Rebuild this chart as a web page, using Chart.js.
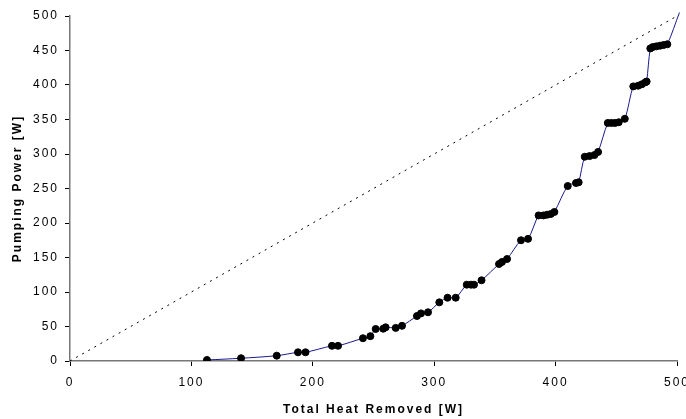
<!DOCTYPE html>
<html>
<head>
<meta charset="utf-8">
<script src="https://cdn.jsdelivr.net/npm/chart.js@4"></script>
<style>
  html, body { margin: 0; padding: 0; background: #fff; }
  #wrap { width: 686px; height: 419px; position: relative; }
</style>
</head>
<body>
<div id="wrap"><canvas id="chart"></canvas></div>
<script>
// measured points: total heat removed vs pumping power
const heatRemoved = [112.8, 140.9, 170.3, 187.8, 194, 215.8, 220.8, 241.3, 247.4, 251.8,
  258, 260, 268.3, 273.5, 285.8, 289.1, 294.9, 304.2, 311, 317.7,
  326.8, 330.3, 332.8, 339, 353.4, 355.8, 360, 371.5, 377.3,
  386, 390, 393, 396, 399, 410, 416.8, 419,
  424, 428, 432, 435, 443, 446, 449, 452, 457,
  464, 468, 471, 474, 475, 478, 480, 483, 486, 489, 492];
const pumpingPower = [1.5, 4, 7.7, 12.6, 12.6, 22, 22, 33, 36, 46.4,
  46.8, 48.8, 48, 51, 65.2, 69, 70.6, 85, 91.7, 91.7,
  110.6, 110.6, 110.6, 117, 140.6, 143.5, 147.8, 175, 177,
  211, 211, 212, 213, 216, 253.6, 258, 259,
  296, 297, 298.5, 303, 345, 345, 345, 346, 351,
  398, 399, 401, 404, 405, 453, 455, 456, 457, 458, 459];
// fitted curve runs a little past the last point
const curveEnd = [502, 505];
// 1:1 reference line
const refLine = [[0, 0], [500, 500]];

const xTicks = [0, 100, 200, 300, 400, 500];

const dots = heatRemoved.map((x, i) => ({ x: x, y: pumpingPower[i] }));
const curve = dots.concat([{ x: curveEnd[0], y: curveEnd[1] }]);

const fam = "'Liberation Sans', Arial, sans-serif";
const font = { family: fam, size: 12 };
const titleFont = { family: fam, size: 12, weight: 'bold' };

// Excel-style wide letter spacing on all text
const spacing = {
  id: 'spacing',
  beforeLayout(chart) { chart.ctx.letterSpacing = '2px'; },
  beforeDraw(chart) { chart.ctx.letterSpacing = '2px'; }
};

new Chart(document.getElementById('chart'), {
  type: 'scatter',
  data: {
    datasets: [
      {
        data: refLine.map(p => ({ x: p[0], y: p[1] })),
        showLine: true,
        borderColor: '#000',
        borderWidth: 1,
        borderDash: [2, 5],
        pointRadius: 0,
        order: 3
      },
      {
        data: curve,
        showLine: true,
        borderColor: '#1a1a8c',
        borderWidth: 1,
        tension: 0.3,
        pointRadius: 0,
        clip: false,
        order: 2
      },
      {
        data: dots,
        pointRadius: 3.5,
        pointBackgroundColor: '#000',
        pointBorderColor: '#000',
        showLine: false,
        order: 1
      }
    ]
  },
  options: {
    responsive: true,
    maintainAspectRatio: false,
    animation: false,
    layout: { padding: { top: 16, right: 9, left: 0, bottom: 0 } },
    plugins: { legend: { display: false }, tooltip: { enabled: false } },
    scales: {
      x: {
        type: 'linear',
        min: 0, max: 500,
        afterBuildTicks: axis => { axis.ticks = xTicks.map(v => ({ value: v })); },
        afterFit: s => { s.height = 58; s.paddingLeft = 0; s.paddingRight = 0; },
        border: { color: '#777', width: 1.5 },
        grid: { drawOnChartArea: false, drawTicks: true, tickLength: 5, color: '#000' },
        ticks: { color: '#000', font: font, padding: 9, maxRotation: 0 },
        title: {
          display: true, text: 'Total Heat Removed [W]', color: '#000',
          font: titleFont, padding: { top: 0, bottom: 2 }
        }
      },
      y: {
        min: 0, max: 500,
        afterFit: s => { s.width = 70; s.paddingTop = 0; s.paddingBottom = 0; },
        ticks: { stepSize: 50, color: '#000', font: font, padding: 6 },
        border: { color: '#777', width: 1.5 },
        grid: { drawOnChartArea: false, drawTicks: true, tickLength: 5, color: '#000' },
        title: {
          display: true, text: 'Pumping Power [W]', color: '#000',
          font: titleFont, padding: { top: 10, bottom: 0 }
        }
      }
    }
  },
  plugins: [spacing]
});
</script>
</body>
</html>
